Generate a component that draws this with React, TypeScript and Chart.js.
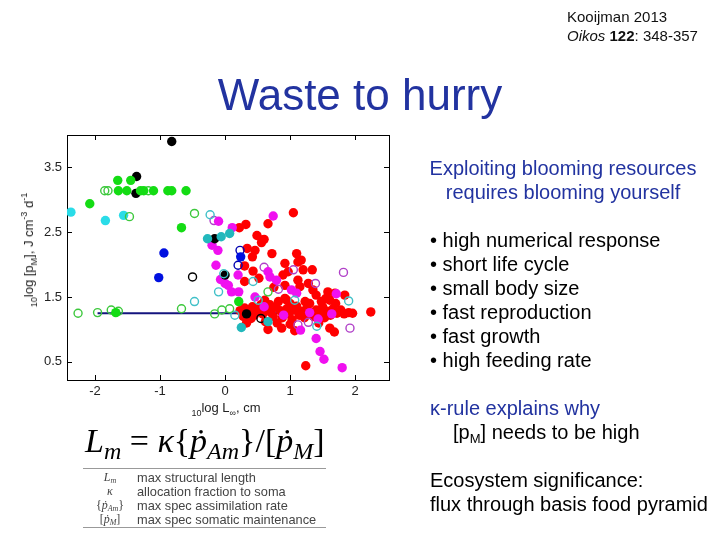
import React, { useEffect, useRef } from "react";
import { Chart, registerables } from "chart.js";

Chart.register(...registerables);

const xTicks = [-2, -1, 0, 1, 2];
const yTicks = [0.5, 1.5, 2.5, 3.5];
const xRange = [-2.43, 2.52];
const yRange = [0.22, 4.0];

// [log10 L_inf (cm), log10 [pM] (J/cm3/d)]
const greenFilled: number[][] = [
  [-1.65, 3.3], [-1.45, 3.3], [-1.64, 3.14], [-1.51, 3.14], [-1.3, 3.14], [-1.25, 3.14],
  [-1.1, 3.14], [-0.88, 3.14], [-0.82, 3.14], [-0.6, 3.14], [-2.08, 2.94], [-0.67, 2.57],
  [-1.68, 1.26], [0.21, 1.43],
];
const greenOpen: number[][] = [
  [-1.85, 3.14], [-1.8, 3.14], [-1.18, 3.14], [-1.47, 2.74], [-0.47, 2.79], [-2.26, 1.25],
  [-1.96, 1.26], [-1.75, 1.3], [-1.64, 1.28], [-0.67, 1.32], [-0.16, 1.24], [-0.05, 1.3],
  [0.07, 1.32], [0.66, 1.58],
];
const cyanFilled: number[][] = [[-2.37, 2.81], [-1.84, 2.68], [-1.56, 2.76]];
const tealFilled: number[][] = [
  [-0.27, 2.4], [-0.06, 2.43], [0.07, 2.48], [0.66, 1.12], [0.25, 1.03],
];
const cyanOpen: number[][] = [
  [-0.23, 2.77], [-0.1, 1.58], [-0.47, 1.43], [0.43, 1.74], [0.51, 1.45], [1.07, 1.45],
  [1.9, 1.44], [1.41, 1.05], [0.15, 1.22], [-0.02, 1.86],
];
const blackFilled: number[][] = [
  [-0.82, 3.9], [-1.36, 3.36], [-1.37, 3.1], [-0.16, 2.4], [0.0, 1.84], [0.33, 1.24],
];
const blackOpen: number[][] = [[-0.5, 1.81], [0.55, 1.17]];
const blueFilled: number[][] = [[-0.94, 2.18], [-1.02, 1.8], [0.24, 2.12]];
const blueOpen: number[][] = [[0.23, 2.22], [0.2, 1.99]];
const magentaFilled: number[][] = [
  [-0.1, 2.67], [-0.2, 2.3], [-0.11, 2.22], [0.74, 2.75], [0.11, 2.57], [-0.14, 1.99],
  [-0.07, 1.77], [0.0, 1.71], [0.2, 1.84], [0.05, 1.68], [0.1, 1.58], [0.21, 1.58],
  [0.66, 1.89], [0.69, 1.81], [0.79, 1.76], [1.02, 1.61], [1.1, 1.56], [1.71, 1.55],
  [0.46, 1.5], [1.16, 0.99], [1.4, 0.86], [1.46, 0.66], [1.52, 0.54], [1.8, 0.41],
  [1.43, 1.16], [0.9, 1.22], [1.3, 1.26], [0.6, 1.35], [1.64, 1.24],
];
const magentaOpen: number[][] = [
  [-0.17, 2.68], [0.6, 1.96], [1.05, 1.92], [1.39, 1.71], [1.82, 1.88], [1.92, 1.02],
  [1.12, 1.07], [1.28, 1.11], [0.82, 1.62],
];
const redFilled: number[][] = [
  [1.05, 2.8], [0.22, 2.57], [0.32, 2.62], [0.66, 2.63], [0.49, 2.45], [0.6, 2.39],
  [0.57, 2.38], [0.34, 2.25], [0.46, 2.22], [0.56, 2.34], [0.42, 2.12], [0.3, 1.98],
  [0.72, 2.17], [1.1, 2.17], [1.17, 2.07], [1.12, 2.04], [0.92, 2.02], [0.97, 1.89],
  [0.89, 1.84], [0.92, 1.68], [1.34, 1.92], [1.2, 1.92], [0.43, 1.9], [0.52, 1.79],
  [0.3, 1.74], [0.75, 1.65], [1.12, 1.76], [1.15, 1.66], [1.28, 1.71], [1.35, 1.61],
  [1.4, 1.53], [1.58, 1.58], [1.69, 1.56], [1.84, 1.53], [0.61, 1.45], [0.69, 1.38],
  [0.82, 1.43], [0.92, 1.48], [1.0, 1.4], [1.23, 1.43], [1.48, 1.43], [1.61, 1.45],
  [2.24, 1.27], [0.66, 1.0], [0.87, 1.02], [1.07, 0.98], [0.33, 1.1], [1.61, 1.02],
  [1.68, 0.96], [1.24, 0.44],
  [0.23, 1.29], [0.3, 1.33], [0.36, 1.27], [0.42, 1.35], [0.45, 1.22], [0.5, 1.3],
  [0.55, 1.38], [0.58, 1.24], [0.63, 1.31], [0.7, 1.27], [0.74, 1.2], [0.78, 1.34],
  [0.85, 1.29], [0.88, 1.18], [0.95, 1.32], [0.98, 1.24], [1.03, 1.15], [1.06, 1.3],
  [1.1, 1.36], [1.14, 1.22], [1.18, 1.28], [1.22, 1.18], [1.26, 1.33], [1.32, 1.25],
  [1.36, 1.2], [1.4, 1.3], [1.45, 1.24], [1.5, 1.35], [1.53, 1.18], [1.57, 1.28],
  [1.62, 1.22], [1.66, 1.32], [1.72, 1.25], [1.78, 1.3], [1.83, 1.24], [1.9, 1.26],
  [1.96, 1.25], [0.4, 1.17], [0.28, 1.2], [0.62, 1.12], [1.0, 1.08], [1.44, 1.1],
  [0.8, 1.1], [0.95, 1.45], [1.3, 1.4], [1.7, 1.4], [1.55, 1.48],
];
const fitLineX = [-1.96, 1.96];
const fitLineY = [1.25, 1.25];

const pts = (a: number[][]) => a.map(([x, y]) => ({ x, y }));

const filled = (data: number[][], color: string) => ({
  type: "scatter" as const,
  data: pts(data),
  pointRadius: 4.7,
  pointBackgroundColor: color,
  pointBorderColor: color,
  pointBorderWidth: 0,
});
const open = (data: number[][], color: string) => ({
  type: "scatter" as const,
  data: pts(data),
  pointRadius: 4,
  pointBackgroundColor: "rgba(0,0,0,0)",
  pointBorderColor: color,
  pointBorderWidth: 1.4,
});

const boxPlugin = {
  id: "boxTicks",
  beforeDatasetsDraw(chart: any) {
    const { ctx, chartArea: a, scales } = chart;
    ctx.save();
    ctx.strokeStyle = "#000";
    ctx.lineWidth = 1;
    ctx.strokeRect(Math.round(a.left) + 0.5, Math.round(a.top) + 0.5, Math.round(a.right - a.left), Math.round(a.bottom - a.top));
    ctx.beginPath();
    for (const v of xTicks) {
      const px = Math.round(scales.x.getPixelForValue(v)) + 0.5;
      ctx.moveTo(px, a.bottom);
      ctx.lineTo(px, a.bottom - 5);
      ctx.moveTo(px, a.top);
      ctx.lineTo(px, a.top + 5);
    }
    for (const v of yTicks) {
      const py = Math.round(scales.y.getPixelForValue(v)) + 0.5;
      ctx.moveTo(a.left, py);
      ctx.lineTo(a.left + 5, py);
      ctx.moveTo(a.right, py);
      ctx.lineTo(a.right - 5, py);
    }
    ctx.stroke();
    ctx.restore();
  },
};

const sans = "'Liberation Sans', Arial, sans-serif";
const serif = "'Liberation Serif', 'DejaVu Serif', serif";

const abs = (left: number, top: number, extra: React.CSSProperties = {}): React.CSSProperties => ({
  position: "absolute",
  left,
  top,
  whiteSpace: "nowrap",
  ...extra,
});

const Sub = ({ children, size = 9, shift = -3 }: any) => (
  <span style={{ fontSize: size, verticalAlign: shift }}>{children}</span>
);

export default function App() {
  const ref = useRef<HTMLCanvasElement | null>(null);

  useEffect(() => {
    if (!ref.current) return;
    const tickFont = { family: sans, size: 13 };
    const chart = new Chart(ref.current, {
      type: "scatter",
      data: {
        datasets: [
          filled(greenFilled, "#14dc14"),
          open(greenOpen, "#3cc83c"),
          filled(cyanFilled, "#2adce8"),
          filled(tealFilled, "#22b8bc"),
          open(cyanOpen, "#40c0c8"),
          filled(blackFilled, "#000000"),
          open(blackOpen, "#000000"),
          filled(blueFilled, "#0010e0"),
          open(blueOpen, "#0000b0"),
          filled(magentaFilled, "#f010f0"),
          open(magentaOpen, "#b040c8"),
          filled(redFilled, "#ff0000"),
          {
            type: "line" as const,
            data: fitLineX.map((x, i) => ({ x, y: fitLineY[i] })),
            borderColor: "#14147e",
            borderWidth: 2.2,
            pointRadius: 0,
            fill: false,
          },
        ] as any,
      },
      options: {
        animation: false,
        responsive: false,
        devicePixelRatio: 1,
        layout: { padding: { left: 27, top: 135, right: 331, bottom: 130 } },
        plugins: { legend: { display: false }, tooltip: { enabled: false } },
        scales: {
          x: {
            type: "linear",
            min: xRange[0],
            max: xRange[1],
            afterBuildTicks: (s: any) => {
              s.ticks = xTicks.map((v) => ({ value: v }));
            },
            afterFit: (s: any) => {
              s.height = 30;
            },
            grid: { display: false, drawTicks: false },
            border: { display: false },
            ticks: { font: tickFont, color: "#222", padding: 4, callback: (v: any) => String(v) },
          },
          y: {
            type: "linear",
            min: yRange[0],
            max: yRange[1],
            afterBuildTicks: (s: any) => {
              s.ticks = yTicks.map((v) => ({ value: v }));
            },
            afterFit: (s: any) => {
              s.width = 40;
            },
            grid: { display: false, drawTicks: false },
            border: { display: false },
            ticks: { font: tickFont, color: "#222", padding: 5, callback: (v: any) => Number(v).toFixed(1) },
          },
        },
      } as any,
      plugins: [boxPlugin],
    });
    return () => chart.destroy();
  }, []);

  const blue = "#2233a0";
  const rightText: React.CSSProperties = { fontFamily: sans, fontSize: 20, lineHeight: "24px", color: "#000" };
  const bullets = [
    "high numerical response",
    "short life cycle",
    "small body size",
    "fast reproduction",
    "fast growth",
    "high feeding rate",
  ];
  const legendRows: [React.ReactNode, string][] = [
    [<><i>L</i><Sub size={8} shift={-2}><i>m</i></Sub></>, "max structural length"],
    [<i>κ</i>, "allocation fraction to soma"],
    [<>{"{"}<i>ṗ</i><Sub size={8} shift={-2}><i>Am</i></Sub>{"}"}</>, "max spec assimilation rate"],
    [<>[<i>ṗ</i><Sub size={8} shift={-2}><i>M</i></Sub>]</>, "max spec somatic maintenance"],
  ];

  return (
    <div style={{ position: "fixed", left: 0, top: 0, width: 720, height: 540, background: "#fff", overflow: "hidden" }}>
      <canvas ref={ref} width={720} height={540} style={{ position: "absolute", left: 0, top: 0, width: 720, height: 540 }} />

      {/* citation */}
      <div style={abs(567, 7, { fontFamily: sans, fontSize: 15, lineHeight: "19px", color: "#111" })}>
        <div>Kooijman 2013</div>
        <div>
          <i>Oikos</i> <b>122</b>: 348-357
        </div>
      </div>

      {/* title */}
      <div style={abs(160, 70, { width: 400, textAlign: "center", fontFamily: sans, fontSize: 44, lineHeight: "50px", color: blue })}>
        Waste to hurry
      </div>

      {/* axis titles */}
      <div style={abs(226, 400, { transform: "translateX(-50%)", fontFamily: sans, fontSize: 13, lineHeight: "16px", color: "#222" })}>
        <Sub size={9} shift={-4}>10</Sub>log L<Sub size={9} shift={-4}>∞</Sub>, cm
      </div>
      <div
        style={abs(29, 250, {
          transform: "translate(-50%, -50%) rotate(-90deg)",
          fontFamily: sans,
          fontSize: 13,
          lineHeight: "16px",
          color: "#222",
        })}
      >
        <Sub size={9} shift={-4}>10</Sub>log [p<Sub size={9} shift={-4}>M</Sub>], J cm<Sub size={9} shift={6}>-3</Sub> d<Sub size={9} shift={6}>-1</Sub>
      </div>

      {/* right text */}
      <div style={abs(413, 156, { ...rightText, width: 300, textAlign: "center", color: blue })}>
        <div>Exploiting blooming resources</div>
        <div>requires blooming yourself</div>
      </div>
      <div style={abs(430, 228, rightText)}>
        {bullets.map((b) => (
          <div key={b}>• {b}</div>
        ))}
      </div>
      <div style={abs(430, 396, { ...rightText, color: blue })}>κ-rule explains why</div>
      <div style={abs(453, 420, rightText)}>
        [p<Sub size={13} shift={-4}>M</Sub>] needs to be high
      </div>
      <div style={abs(430, 468, rightText)}>
        <div>Ecosystem significance:</div>
        <div>flux through basis food pyramid</div>
      </div>

      {/* formula */}
      <div style={abs(85, 421, { fontFamily: serif, fontSize: 34, lineHeight: "40px", color: "#000" })}>
        <i>L</i>
        <Sub size={24} shift={-7}>
          <i>m</i>
        </Sub>{" "}
        = <i>κ</i>
        {"{"}
        <i>ṗ</i>
        <Sub size={24} shift={-7}>
          <i>Am</i>
        </Sub>
        {"}"}/[<i>ṗ</i>
        <Sub size={24} shift={-7}>
          <i>M</i>
        </Sub>
        ]
      </div>

      {/* legend table */}
      <div style={abs(83, 468, { width: 243, borderTop: "1px solid #999", borderBottom: "1px solid #999", paddingTop: 1, paddingBottom: 1 })}>
        {legendRows.map(([sym, txt], i) => (
          <div key={i} style={{ display: "flex", height: 14, alignItems: "center" }}>
            <div style={{ width: 54, textAlign: "center", fontFamily: serif, fontSize: 12, color: "#444" }}>{sym}</div>
            <div style={{ fontFamily: sans, fontSize: 12.8, color: "#444" }}>{txt}</div>
          </div>
        ))}
      </div>
    </div>
  );
}
